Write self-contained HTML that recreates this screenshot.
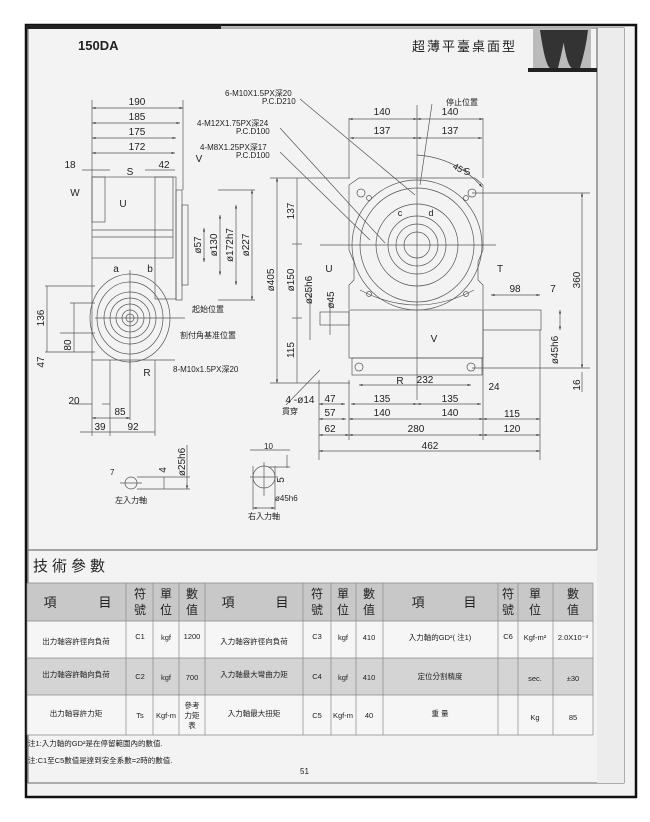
<!DOCTYPE html>
<html><head><meta charset="utf-8"><style>
body{margin:0;background:#fff;width:650px;height:822px;overflow:hidden}
svg{display:block}
text{font-family:"Liberation Sans","Noto Sans CJK TC",sans-serif;fill:#222}
</style></head><body>
<svg width="650" height="822" viewBox="0 0 650 822">
<defs>
<marker id="a" markerWidth="6" markerHeight="6" refX="5" refY="3" orient="auto"><path d="M0,1.5 L5,3 L0,4.5z" fill="#333"/></marker>
<marker id="b" markerWidth="6" markerHeight="6" refX="1" refY="3" orient="auto"><path d="M6,1.5 L1,3 L6,4.5z" fill="#333"/></marker>
</defs>
<!-- page frame -->
<rect x="26" y="25" width="610" height="772" fill="#f2f2f2" stroke="#111" stroke-width="2.5"/>
<rect x="28" y="28" width="596" height="755" fill="#f3f3f3" stroke="#444" stroke-width="0.8"/>
<rect x="597" y="28" width="27" height="755" fill="#ececec"/>
<line x1="597" y1="28" x2="597" y2="550" stroke="#555" stroke-width="1"/>
<rect x="26" y="25" width="195" height="4" fill="#222"/>
<text x="78" y="50" font-size="13" font-weight="bold">150DA</text>
<text x="412" y="51" font-size="13" letter-spacing="2">超薄平臺桌面型</text>
<rect x="533" y="28" width="58" height="40" fill="#bbb"/>
<path d="M540,30 q5,35 10,38 l8,0 q5,-20 8,-38z M562,30 q4,35 10,38 l8,0 q6,-20 8,-38z" fill="#333"/>
<rect x="528" y="68" width="69" height="4" fill="#222"/>

<g stroke="#555" stroke-width="0.7" fill="none">
<!-- LEFT VIEW -->
<rect x="92" y="177" width="81" height="81"/>
<rect x="92" y="177" width="13" height="45"/>
<line x1="92" y1="230" x2="173" y2="230"/><line x1="92" y1="237" x2="173" y2="237"/>
<rect x="155" y="177" width="21" height="122"/>
<rect x="176" y="190" width="6" height="110"/>
<rect x="182" y="205" width="6" height="80"/>
<ellipse cx="130" cy="318" rx="40" ry="44"/>
<ellipse cx="130" cy="318" rx="33" ry="36"/>
<circle cx="130" cy="318" r="26"/><circle cx="130" cy="318" r="20"/><circle cx="130" cy="318" r="14"/><circle cx="130" cy="318" r="8"/><circle cx="130" cy="318" r="4"/>
<line x1="95" y1="318" x2="185" y2="318"/><line x1="130" y1="270" x2="130" y2="370"/>
<line x1="92" y1="258" x2="92" y2="360"/><line x1="92" y1="360" x2="175" y2="360"/>
<!-- left dims -->
<line x1="92" y1="108" x2="183" y2="108" marker-start="url(#b)" marker-end="url(#a)"/>
<line x1="92" y1="123" x2="180" y2="123" marker-start="url(#b)" marker-end="url(#a)"/>
<line x1="92" y1="138" x2="176" y2="138" marker-start="url(#b)" marker-end="url(#a)"/>
<line x1="92" y1="153" x2="175" y2="153" marker-start="url(#b)" marker-end="url(#a)"/>
<line x1="92" y1="100" x2="92" y2="177"/><line x1="183" y1="100" x2="183" y2="190"/>
<line x1="82" y1="170" x2="110" y2="170"/><line x1="145" y1="170" x2="175" y2="170"/>
<line x1="218" y1="190" x2="255" y2="190"/><line x1="218" y1="300" x2="255" y2="300"/>
<line x1="252" y1="190" x2="252" y2="300" marker-start="url(#b)" marker-end="url(#a)"/>
<line x1="236" y1="205" x2="236" y2="285" marker-start="url(#b)" marker-end="url(#a)"/>
<line x1="220" y1="215" x2="220" y2="275" marker-start="url(#b)" marker-end="url(#a)"/>
<line x1="204" y1="228" x2="204" y2="262" marker-start="url(#b)" marker-end="url(#a)"/>
<line x1="45" y1="286" x2="95" y2="286"/><line x1="45" y1="352" x2="95" y2="352"/><line x1="60" y1="333" x2="95" y2="333"/><line x1="70" y1="303" x2="95" y2="303"/>
<line x1="47" y1="286" x2="47" y2="352"/><line x1="74" y1="303" x2="74" y2="352"/>
<line x1="72" y1="404" x2="92" y2="404"/><line x1="102" y1="404" x2="110" y2="404"/>
<line x1="92" y1="418" x2="130" y2="418" marker-start="url(#b)" marker-end="url(#a)"/>
<line x1="80" y1="432" x2="155" y2="432"/>
<line x1="92" y1="360" x2="92" y2="436"/><line x1="110" y1="360" x2="110" y2="436"/><line x1="130" y1="360" x2="130" y2="420"/><line x1="155" y1="360" x2="155" y2="436"/>

<!-- RIGHT VIEW -->
<path d="M349,185 l10,-7 h116 l8,7 v65 l-5,12 v18 l5,5 v24"/>
<path d="M349,185 v65 l5,12 v18 l-5,5 v24"/>
<path d="M360,290 q57,30 114,0"/>
<circle cx="417" cy="245" r="65"/><circle cx="417" cy="245" r="57"/><circle cx="417" cy="245" r="41"/>
<circle cx="417" cy="245" r="29"/><circle cx="417" cy="245" r="21"/><circle cx="417" cy="245" r="13"/>
<line x1="320" y1="245" x2="496" y2="245"/><line x1="417" y1="105" x2="417" y2="400"/>
<circle cx="361" cy="193" r="4"/><circle cx="472" cy="193" r="4"/><circle cx="369" cy="198" r="2.5"/><circle cx="466" cy="198" r="2.5"/>
<circle cx="369" cy="294" r="2.5"/><circle cx="466" cy="294" r="2.5"/>
<rect x="349" y="310" width="134" height="48"/>
<rect x="352" y="358" width="130" height="17"/>
<rect x="320" y="312" width="29" height="13"/>
<rect x="483" y="310" width="58" height="20"/>
<circle cx="359" cy="367" r="4"/><circle cx="471" cy="367" r="4"/>
<line x1="349" y1="118" x2="349" y2="178"/><line x1="483" y1="118" x2="483" y2="178"/>
<line x1="349" y1="119" x2="417" y2="119" marker-start="url(#b)" marker-end="url(#a)"/>
<line x1="417" y1="119" x2="483" y2="119" marker-start="url(#b)" marker-end="url(#a)"/>
<line x1="350" y1="138" x2="417" y2="138" marker-start="url(#b)" marker-end="url(#a)"/>
<line x1="417" y1="138" x2="482" y2="138" marker-start="url(#b)" marker-end="url(#a)"/>
<path d="M417,155 q40,3 65,32" marker-end="url(#a)"/>
<line x1="472" y1="193" x2="590" y2="193"/><line x1="472" y1="368" x2="590" y2="368"/>
<line x1="582" y1="193" x2="582" y2="368" marker-start="url(#b)" marker-end="url(#a)"/>
<line x1="582" y1="372" x2="582" y2="392"/>
<line x1="560" y1="310" x2="560" y2="330" marker-start="url(#b)" marker-end="url(#a)"/>
<line x1="491" y1="295" x2="540" y2="295" marker-start="url(#b)" marker-end="url(#a)"/>
<line x1="270" y1="178" x2="350" y2="178"/><line x1="270" y1="383" x2="350" y2="383"/>
<line x1="277" y1="178" x2="277" y2="383" marker-start="url(#b)" marker-end="url(#a)"/>
<line x1="297" y1="178" x2="297" y2="383"/><line x1="292" y1="244" x2="302" y2="244"/><line x1="292" y1="318" x2="302" y2="318"/>
<line x1="310" y1="290" x2="310" y2="340"/><line x1="330" y1="300" x2="330" y2="335"/>
<!-- bottom dims -->
<line x1="319" y1="380" x2="319" y2="460"/><line x1="349" y1="380" x2="349" y2="440"/><line x1="483" y1="330" x2="483" y2="440"/><line x1="540" y1="330" x2="540" y2="460"/>
<line x1="359" y1="385" x2="471" y2="385" marker-start="url(#b)" marker-end="url(#a)"/>
<line x1="319" y1="404" x2="345" y2="404" marker-start="url(#b)" marker-end="url(#a)"/>
<line x1="351" y1="404" x2="417" y2="404" marker-start="url(#b)" marker-end="url(#a)"/>
<line x1="417" y1="404" x2="481" y2="404" marker-start="url(#b)" marker-end="url(#a)"/>
<line x1="319" y1="419" x2="346" y2="419" marker-start="url(#b)" marker-end="url(#a)"/>
<line x1="349" y1="419" x2="483" y2="419" marker-start="url(#b)" marker-end="url(#a)"/>
<line x1="483" y1="419" x2="540" y2="419" marker-start="url(#b)" marker-end="url(#a)"/>
<line x1="319" y1="435" x2="349" y2="435" marker-start="url(#b)" marker-end="url(#a)"/>
<line x1="349" y1="435" x2="483" y2="435" marker-start="url(#b)" marker-end="url(#a)"/>
<line x1="483" y1="435" x2="540" y2="435" marker-start="url(#b)" marker-end="url(#a)"/>
<line x1="319" y1="451" x2="540" y2="451" marker-start="url(#b)" marker-end="url(#a)"/>
<!-- leaders -->
<line x1="300" y1="99" x2="415" y2="195"/><line x1="280" y1="128" x2="385" y2="243"/><line x1="280" y1="152" x2="370" y2="240"/>
<line x1="432" y1="104" x2="420" y2="185"/>
<line x1="286" y1="405" x2="320" y2="370"/>
<!-- shafts -->
<circle cx="131" cy="483" r="6"/><line x1="120" y1="483" x2="142" y2="483"/><line x1="137" y1="477" x2="190" y2="477"/><line x1="137" y1="489" x2="190" y2="489"/>
<line x1="187" y1="445" x2="187" y2="489" marker-end="url(#a)"/><line x1="164" y1="477" x2="164" y2="489"/>
<circle cx="264" cy="477" r="11"/><line x1="250" y1="477" x2="278" y2="477"/><line x1="264" y1="462" x2="264" y2="496"/>
<line x1="253" y1="466" x2="253" y2="510"/><line x1="275" y1="466" x2="275" y2="510"/>
<line x1="253" y1="508" x2="275" y2="508" marker-start="url(#b)" marker-end="url(#a)"/>
<line x1="268" y1="467" x2="290" y2="467"/><line x1="287" y1="455" x2="287" y2="468"/>
<line x1="250" y1="450" x2="290" y2="450"/>
</g>

<g font-size="10" text-anchor="middle">
<text x="137" y="105">190</text><text x="137" y="120">185</text><text x="137" y="135">175</text><text x="137" y="150">172</text>
<text x="70" y="168">18</text><text x="164" y="168">42</text>
<text x="130" y="175">S</text><text x="199" y="162">V</text><text x="75" y="196">W</text><text x="123" y="207">U</text>
<text x="116" y="272">a</text><text x="150" y="272">b</text><text x="147" y="376">R</text>
<text x="74" y="404">20</text><text x="120" y="415">85</text><text x="100" y="430">39</text><text x="133" y="430">92</text>
<text x="382" y="115">140</text><text x="450" y="115">140</text><text x="382" y="134">137</text><text x="450" y="134">137</text>
<text x="400" y="216" font-size="9">c</text><text x="431" y="216" font-size="9">d</text>
<text x="467" y="175">S</text><text x="329" y="272">U</text><text x="500" y="272">T</text><text x="434" y="342">V</text>
<text x="515" y="292">98</text><text x="553" y="292">7</text>
<text x="400" y="384">R</text><text x="425" y="383">232</text><text x="494" y="390">24</text>
<text x="330" y="402">47</text><text x="382" y="402">135</text><text x="450" y="402">135</text>
<text x="330" y="416">57</text><text x="382" y="416">140</text><text x="450" y="416">140</text><text x="512" y="417">115</text>
<text x="330" y="432">62</text><text x="416" y="432">280</text><text x="512" y="432">120</text>
<text x="430" y="449">462</text>
<text x="300" y="403">4 -ø14</text>
<text x="290" y="404"></text>
</g>
<g font-size="10">
<text transform="translate(249,245) rotate(-90)" text-anchor="middle">ø227</text>
<text transform="translate(233,245) rotate(-90)" text-anchor="middle">ø172h7</text>
<text transform="translate(217,245) rotate(-90)" text-anchor="middle">ø130</text>
<text transform="translate(201,245) rotate(-90)" text-anchor="middle">ø57</text>
<text transform="translate(44,318) rotate(-90)" text-anchor="middle">136</text>
<text transform="translate(71,345) rotate(-90)" text-anchor="middle">80</text>
<text transform="translate(44,362) rotate(-90)" text-anchor="middle">47</text>
<text transform="translate(274,280) rotate(-90)" text-anchor="middle">ø405</text>
<text transform="translate(294,211) rotate(-90)" text-anchor="middle">137</text>
<text transform="translate(294,280) rotate(-90)" text-anchor="middle">ø150</text>
<text transform="translate(294,350) rotate(-90)" text-anchor="middle">115</text>
<text transform="translate(312,290) rotate(-90)" text-anchor="middle">ø25h6</text>
<text transform="translate(334,300) rotate(-90)" text-anchor="middle">ø45</text>
<text transform="translate(580,280) rotate(-90)" text-anchor="middle">360</text>
<text transform="translate(558,350) rotate(-90)" text-anchor="middle">ø45h6</text>
<text transform="translate(580,385) rotate(-90)" text-anchor="middle">16</text>
<text transform="translate(185,462) rotate(-90)" text-anchor="middle">ø25h6</text>
<text transform="translate(166,470) rotate(-90)" text-anchor="middle">4</text>
<text transform="translate(284,480) rotate(-90)" text-anchor="middle">5</text>
<text transform="translate(452,168) rotate(30)" font-size="9">45°</text>
</g>
<g font-size="8">
<text x="225" y="96">6-M10X1.5PX深20</text><text x="262" y="104">P.C.D210</text>
<text x="197" y="126">4-M12X1.75PX深24</text><text x="236" y="134">P.C.D100</text>
<text x="200" y="150">4-M8X1.25PX深17</text><text x="236" y="158">P.C.D100</text>
<text x="446" y="105">停止位置</text>
<text x="192" y="312">起始位置</text><text x="180" y="338">割付角基准位置</text>
<text x="173" y="372">8-M10x1.5PX深20</text>
<text x="282" y="414">貫穿</text>
<text x="110" y="475">7</text>
<text x="115" y="503">左入力軸</text>
<text x="264" y="449">10</text>
<text x="275" y="501">ø45h6</text>
<text x="248" y="519">右入力軸</text>
</g>

<!-- table section -->
<line x1="28" y1="550" x2="597" y2="550" stroke="#555" stroke-width="1"/>
<text x="33" y="571" font-size="15" letter-spacing="4">技術參數</text>
<g font-size="7.5" text-anchor="middle">
<rect x="27" y="583" width="566" height="38" fill="#c8c8c8"/>
<rect x="27" y="621" width="566" height="37" fill="#f6f6f6"/>
<rect x="27" y="658" width="566" height="37" fill="#d4d4d4"/>
<rect x="27" y="695" width="566" height="40" fill="#f6f6f6"/>
<g stroke="#888" stroke-width="0.7">
<line x1="27" y1="583" x2="593" y2="583"/><line x1="27" y1="621" x2="593" y2="621"/><line x1="27" y1="658" x2="593" y2="658"/><line x1="27" y1="695" x2="593" y2="695"/><line x1="27" y1="735" x2="593" y2="735"/>
<line x1="27" y1="583" x2="27" y2="735"/><line x1="126" y1="583" x2="126" y2="735"/><line x1="153" y1="583" x2="153" y2="735"/><line x1="179" y1="583" x2="179" y2="735"/><line x1="205" y1="583" x2="205" y2="735"/>
<line x1="303" y1="583" x2="303" y2="735"/><line x1="331" y1="583" x2="331" y2="735"/><line x1="356" y1="583" x2="356" y2="735"/><line x1="383" y1="583" x2="383" y2="735"/>
<line x1="498" y1="583" x2="498" y2="735"/><line x1="518" y1="583" x2="518" y2="735"/><line x1="553" y1="583" x2="553" y2="735"/><line x1="593" y1="583" x2="593" y2="735"/>
</g>
<g font-size="13">
<text x="50" y="607">項</text><text x="105" y="607">目</text>
<text x="228" y="607">項</text><text x="282" y="607">目</text>
<text x="418" y="607">項</text><text x="470" y="607">目</text>
</g>
<g font-size="12">
<text x="140" y="598">符</text><text x="140" y="614">號</text><text x="166" y="598">單</text><text x="166" y="614">位</text><text x="192" y="598">數</text><text x="192" y="614">值</text>
<text x="317" y="598">符</text><text x="317" y="614">號</text><text x="343" y="598">單</text><text x="343" y="614">位</text><text x="369" y="598">數</text><text x="369" y="614">值</text>
<text x="508" y="598">符</text><text x="508" y="614">號</text><text x="535" y="598">單</text><text x="535" y="614">位</text><text x="573" y="598">數</text><text x="573" y="614">值</text>
</g>
<text x="76" y="644">出力軸容許徑向負荷</text><text x="140" y="639">C1</text><text x="166" y="640">kgf</text><text x="192" y="639">1200</text>
<text x="254" y="644">入力軸容許徑向負荷</text><text x="317" y="639">C3</text><text x="343" y="640">kgf</text><text x="369" y="640">410</text>
<text x="440" y="640">入力軸的GD²( 注1)</text><text x="508" y="639">C6</text><text x="535" y="640">Kgf-m²</text><text x="573" y="640">2.0X10⁻³</text>
<text x="76" y="677">出力軸容許軸向負荷</text><text x="140" y="679">C2</text><text x="166" y="680">kgf</text><text x="192" y="680">700</text>
<text x="254" y="677">入力軸最大彎曲力矩</text><text x="317" y="679">C4</text><text x="343" y="680">kgf</text><text x="369" y="680">410</text>
<text x="440" y="679">定位分割精度</text><text x="535" y="681">sec.</text><text x="573" y="681">±30</text>
<text x="76" y="716">出力軸容許力矩</text><text x="140" y="718">Ts</text><text x="166" y="718">Kgf-m</text><text x="192" y="708">參考</text><text x="192" y="718">力矩</text><text x="192" y="728">表</text>
<text x="254" y="716">入力軸最大扭矩</text><text x="317" y="718">C5</text><text x="343" y="718">Kgf-m</text><text x="369" y="718">40</text>
<text x="440" y="716">重 量</text><text x="535" y="720">Kg</text><text x="573" y="720">85</text>
</g>
<text x="28" y="746" font-size="7.5">注1:入力軸的GD²是在停留範圍內的數值.</text>
<text x="28" y="763" font-size="7.5">注:C1至C5數值是達到安全系數=2時的數值.</text>
<text x="300" y="774" font-size="8">51</text>
</svg>
</body></html>
